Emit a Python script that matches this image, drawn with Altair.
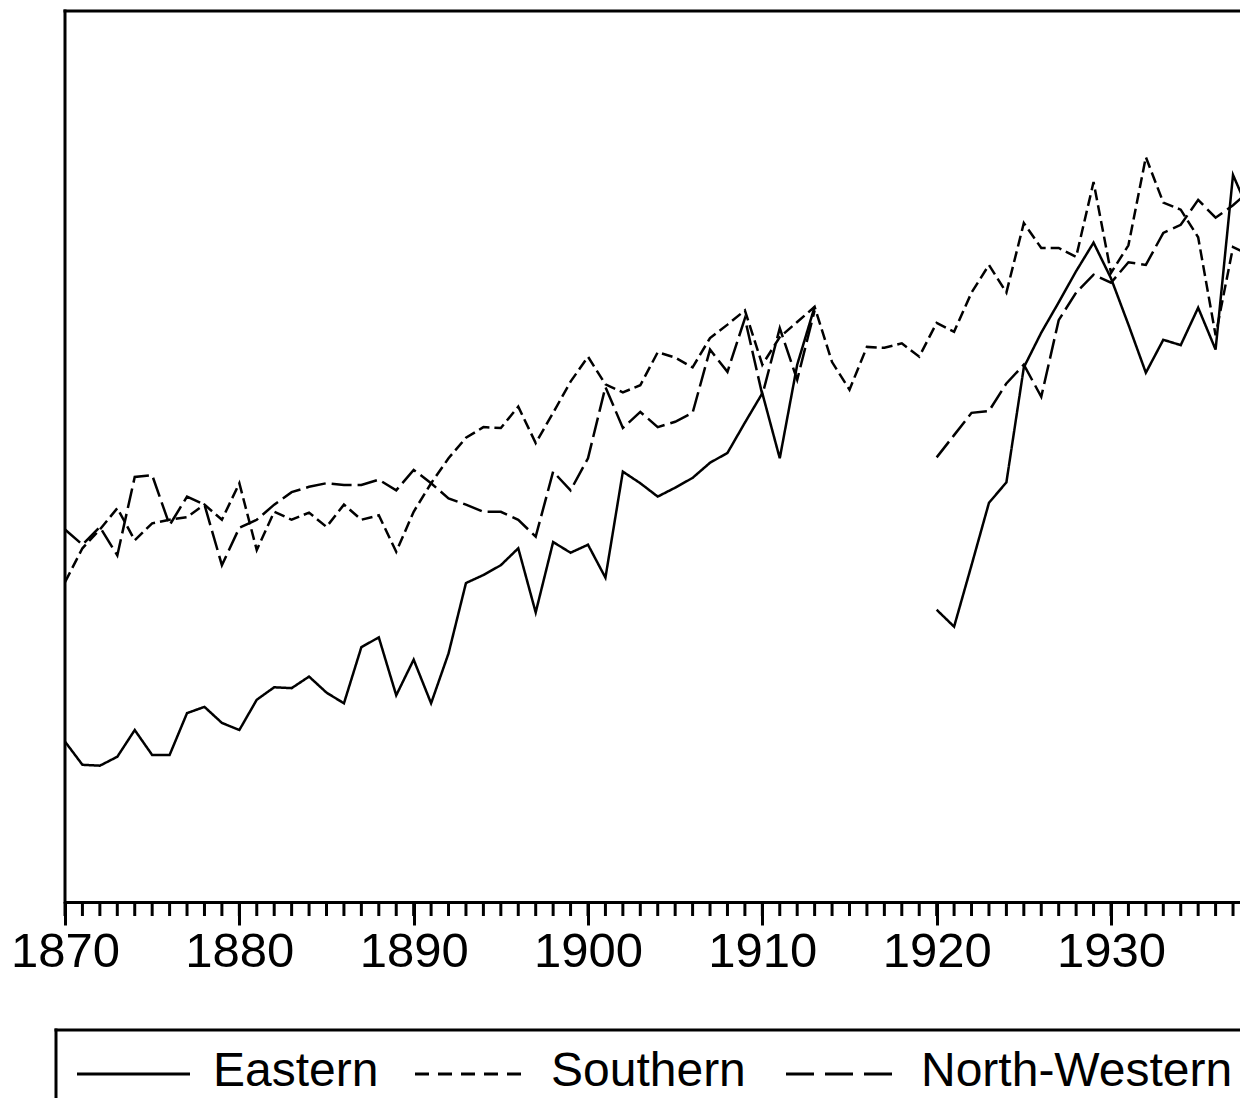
import altair as alt
import pandas as pd

# ---------------- data ----------------
years = list(range(1870, 1939))

eastern = [18.0, 15.4, 15.3, 16.3, 19.3, 16.5, 16.5, 21.2, 21.9, 20.1,
           19.3, 22.7, 24.1, 24.0, 25.3, 23.5, 22.3, 28.6, 29.7, 23.2,
           27.2, 22.3, 27.9, 35.8, 36.7, 37.8, 39.7, 32.5, 40.4, 39.2,
           40.1, 36.4, 48.3, 47.0, 45.5, 46.5, 47.6, 49.3, 50.4, 53.8,
           57.1, 49.8, 60.3, 66.8, None, None, None, None, None, None,
           32.8, 30.9, 37.8, 44.8, 47.1, 60.0, 63.9, 67.3, 70.8, 74.0,
           70.0, 64.8, 59.4, 63.1, 62.5, 66.7, 62.0, 81.6, 77.1]

southern = [35.9, 39.7, 41.8, 44.2, 40.6, 42.5, 42.9, 43.2, 44.6, 42.9,
            47.0, 39.5, 43.8, 42.9, 43.7, 42.1, 44.6, 42.9, 43.4, 39.3,
            43.8, 47.0, 49.8, 52.1, 53.3, 53.2, 55.6, 51.5, 54.9, 58.4,
            61.2, 58.1, 57.2, 58.0, 61.7, 61.1, 60.0, 63.3, 64.8, 66.4,
            60.3, 63.4, 65.1, 66.8, 60.6, 57.5, 62.3, 62.2, 62.7, 61.2,
            65.0, 64.0, 68.4, 71.5, 68.4, 76.2, 73.4, 73.4, 72.4, 80.8,
            70.6, 73.7, 83.6, 78.5, 77.7, 74.6, 63.6, 73.5, 72.6]

north_western = [41.8, 40.1, 42.1, 38.9, 47.7, 47.9, 42.3, 45.5, 44.6, 37.8,
                 42.0, 42.9, 44.6, 46.0, 46.6, 47.0, 46.8, 46.8, 47.4, 46.2,
                 48.5, 47.0, 45.3, 44.6, 43.8, 43.8, 42.9, 41.0, 48.3, 46.2,
                 49.8, 57.8, 53.2, 55.0, 53.3, 53.9, 54.9, 62.0, 59.5, 65.5,
                 56.9, 64.4, 58.6, 66.4, None, None, None, None, None, None,
                 49.9, 52.4, 54.9, 55.1, 58.2, 60.3, 56.7, 65.3, 68.4, 70.4,
                 69.5, 71.8, 71.5, 75.1, 76.0, 78.8, 76.8, 78.2, 79.9]

series_names = ["Eastern", "Southern", "North-Western"]
major_ticks = [1870, 1880, 1890, 1900, 1910, 1920, 1930]
minor_ticks = list(range(1870, 1938))

# ---------------- table (a new segment starts after every gap) ----------------
rows = []
for name, vals in zip(series_names, [eastern, southern, north_western]):
    part = 0
    prev_missing = False
    for yr, v in zip(years, vals):
        if v is None:
            prev_missing = True
            continue
        if prev_missing:
            part += 1
            prev_missing = False
        rows.append({"year": yr, "value": v, "series": name, "seg": f"{name}-{part}"})
df = pd.DataFrame(rows)

W = 1175
H = 891
FONT = "Liberation Sans"

x_enc = alt.X(
    "year:Q",
    scale=alt.Scale(domain=[1870, 1937.4], nice=False, zero=False),
    axis=alt.Axis(
        values=major_ticks, format="d", title=None,
        labelFont=FONT, labelFontSize=49, labelColor="black",
        labelPadding=2, labelFlush=False, labelOverlap=False,
        tickSize=23, tickWidth=3, tickColor="black",
        domainColor="black", domainWidth=3, grid=False,
    ),
)

lines = alt.Chart(df).mark_line(strokeWidth=2.5, color="#000", clip=True).encode(
    x=x_enc,
    y=alt.Y("value:Q", scale=alt.Scale(domain=[0, 100], nice=False, zero=False), axis=None),
    strokeDash=alt.StrokeDash(
        "series:N",
        scale=alt.Scale(domain=series_names, range=[[1, 0], [11, 5], [20, 6]]),
        legend=None,
    ),
    detail="seg:N",
)

minor = alt.Chart(pd.DataFrame({"year": minor_ticks})).mark_rule(
    strokeWidth=3, color="black"
).encode(x=x_enc, y=alt.value(H), y2=alt.value(H + 14))

one = pd.DataFrame({"k": [0]})

frame_top = alt.Chart(one).mark_rule(strokeWidth=3, color="black", strokeCap="square").encode(
    x=alt.value(0), x2=alt.value(W), y=alt.value(0)
)
frame_left = alt.Chart(one).mark_rule(strokeWidth=3, color="black", strokeCap="square").encode(
    x=alt.value(0), y=alt.value(0), y2=alt.value(H)
)

# legend box (its right and bottom lie beyond the page, as in the reference)
LEG_TOP = 1019
LEG_BOTTOM = 1087
leg_top = alt.Chart(one).mark_rule(strokeWidth=3, color="black", strokeCap="square").encode(
    x=alt.value(-9), x2=alt.value(W), y=alt.value(LEG_TOP)
)
leg_left = alt.Chart(one).mark_rule(strokeWidth=3, color="black", strokeCap="square").encode(
    x=alt.value(-9), y=alt.value(LEG_TOP), y2=alt.value(LEG_BOTTOM)
)

legend_layers = []
legend_spec = [
    ("Eastern", [1, 0], 12, 125, 148),
    ("Southern", [14, 9], 350, 460, 486),
    ("North-Western", [28, 11], 721, 830, 856),
]
for name, dash, x0, x1, tx in legend_spec:
    sym = alt.Chart(pd.DataFrame({"series": [name]})).mark_rule(
        strokeWidth=3, color="black", strokeDash=dash
    ).encode(x=alt.value(x0), x2=alt.value(x1), y=alt.value(1063))
    txt = alt.Chart(pd.DataFrame({"series": [name]})).mark_text(
        align="left", baseline="alphabetic", font=FONT, fontSize=48, color="black"
    ).encode(x=alt.value(tx), y=alt.value(1075), text="series:N")
    legend_layers += [sym, txt]

chart = alt.layer(
    lines, minor, frame_top, frame_left, leg_top, leg_left, *legend_layers
).properties(
    width=W,
    height=H,
    autosize=alt.AutoSizeParams(type="none"),
    padding={"left": 57, "top": 3, "right": 0, "bottom": 196},
    background="white",
).configure_view(stroke="transparent")

chart.save("out.html", embed_options={"renderer": "svg", "actions": False})
